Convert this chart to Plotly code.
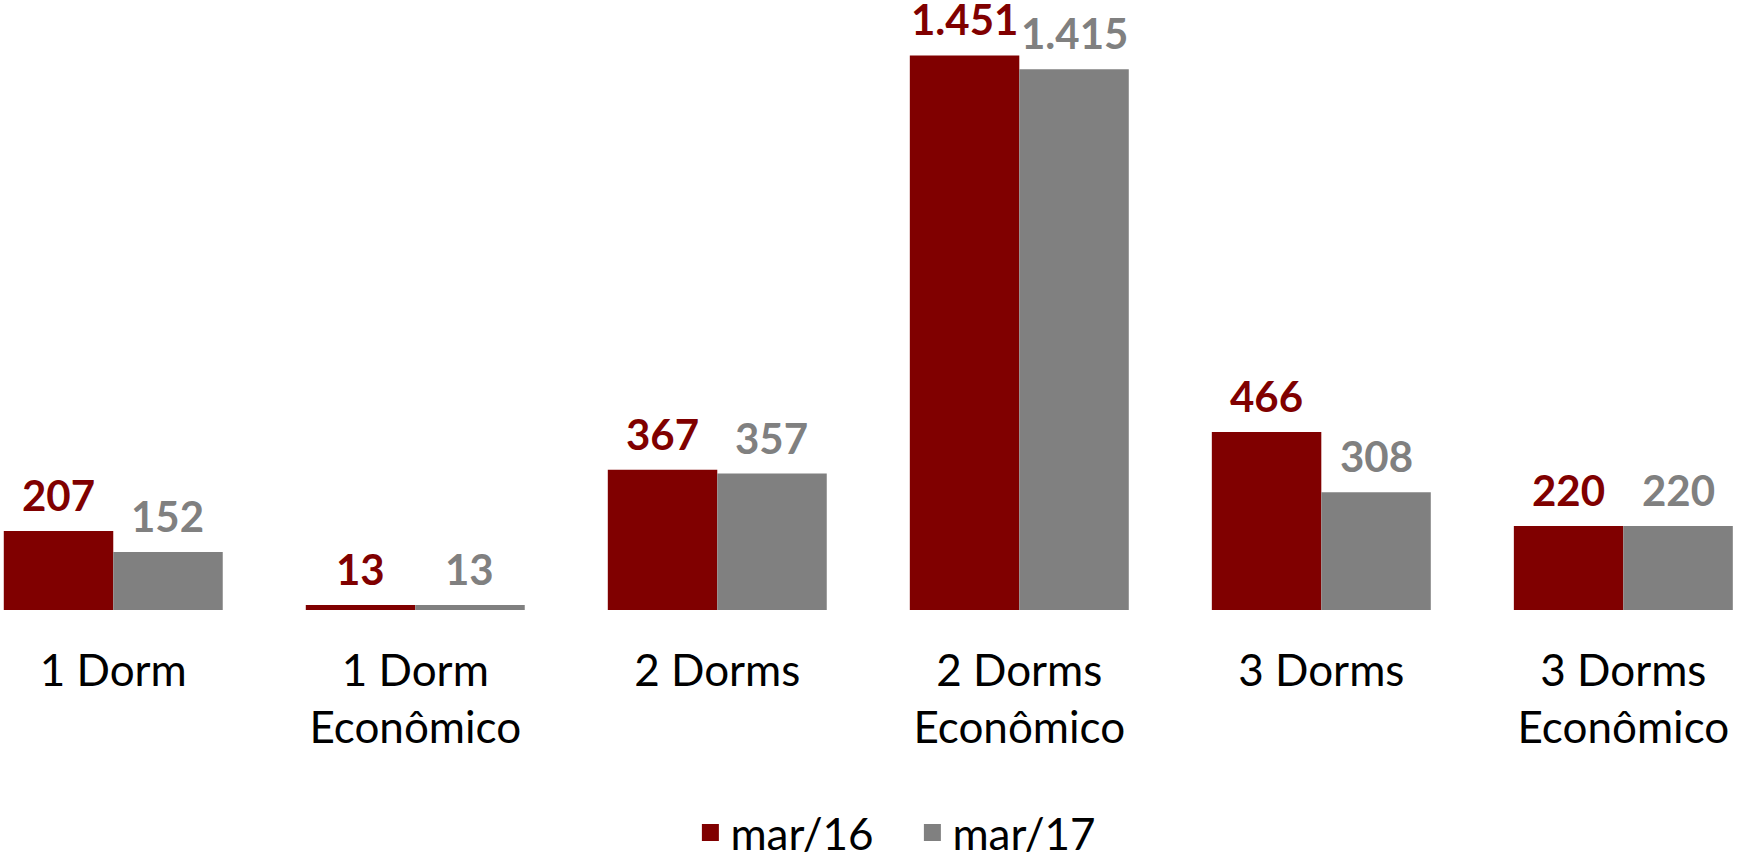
import plotly.graph_objects as go

categories = ["1 Dorm", "1 Dorm<br>Econômico", "2 Dorms", "2 Dorms<br>Econômico", "3 Dorms", "3 Dorms<br>Econômico"]
series_names = ["mar/16", "mar/17"]
mar16 = [207, 13, 367, 1451, 466, 220]
mar17 = [152, 13, 357, 1415, 308, 220]
mar16_labels = ["207", "13", "367", "1.451", "466", "220"]
mar17_labels = ["152", "13", "357", "1.415", "308", "220"]

RED = "#800000"
GRAY = "#808080"
FONT = "Lato"

fig = go.Figure()
fig.add_trace(go.Bar(x=categories, y=mar16, name=series_names[0], marker=dict(color=RED, line=dict(width=0)),
                     offsetgroup="a", showlegend=False))
fig.add_trace(go.Bar(x=categories, y=mar17, name=series_names[1], marker=dict(color=GRAY, line=dict(width=0)),
                     offsetgroup="b", showlegend=False))
# legend-only entries (larger swatches)
fig.add_trace(go.Bar(x=[categories[0]], y=[None], name=series_names[0], offsetgroup="a",
                     marker=dict(color=RED, line=dict(color=RED, width=5))))
fig.add_trace(go.Bar(x=[categories[0]], y=[None], name=series_names[1], offsetgroup="b",
                     marker=dict(color=GRAY, line=dict(color=GRAY, width=5))))

annotations = []
for cat, v, t in zip(categories, mar16, mar16_labels):
    annotations.append(dict(x=cat, y=v, text=t, showarrow=False, xshift=-54.7, yshift=9, yanchor="bottom",
                            font=dict(family=FONT, size=42, color=RED, weight="bold")))
for cat, v, t in zip(categories, mar17, mar17_labels):
    annotations.append(dict(x=cat, y=v, text=t, showarrow=False, xshift=54.7, yshift=9, yanchor="bottom",
                            font=dict(family=FONT, size=42, color=GRAY, weight="bold")))

fig.update_layout(
    width=1739, height=865,
    margin=dict(l=0, r=0, t=0, b=255, autoexpand=False),
    paper_bgcolor="white", plot_bgcolor="white",
    barmode="group", bargap=0.275, bargroupgap=0,
    font=dict(family=FONT, size=44, color="black"),
    annotations=annotations,
    legend=dict(orientation="h", xref="container", yref="container", x=0.397, xanchor="left",
                y=0.037, yanchor="middle", entrywidthmode="pixels", entrywidth=177,
                font=dict(family=FONT, size=44, color="black"), itemwidth=30, tracegroupgap=0),
)
fig.update_xaxes(range=[-0.375, 5.383], showgrid=False, showline=False, zeroline=False,
                 ticks="outside", ticklen=22, tickcolor="rgba(0,0,0,0)",
                 tickfont=dict(family=FONT, size=44, color="black"))
fig.update_yaxes(range=[0, 610 / 0.3822], visible=False, showgrid=False, zeroline=False)

fig.write_html("out.html", post_script="document.body.style.margin='0px';",
               config={"displayModeBar": False})
